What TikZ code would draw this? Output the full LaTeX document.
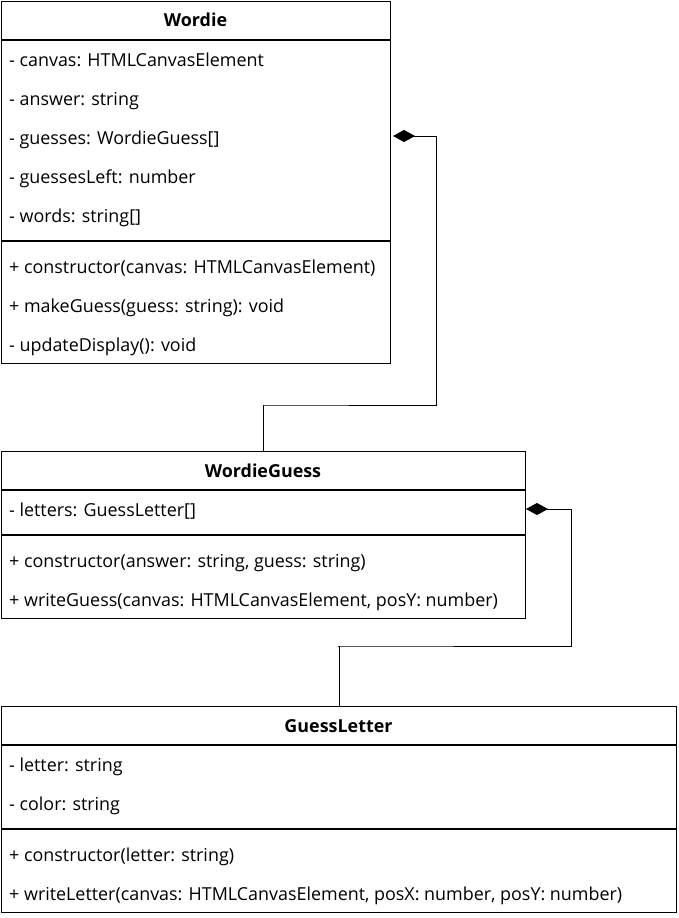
\documentclass[tikz,border=0pt]{standalone}
\usepackage{fontspec}
\setmainfont{Open Sans}
\usetikzlibrary{arrows.meta}
\tikzset{
  classbox/.style={draw, line width=1.1pt, inner sep=0pt, anchor=north west},
  attr/.style={anchor=base west, inner sep=0pt, yshift=-1pt, font=\fontsize{17.9}{20}\selectfont},
  head/.style={anchor=base, inner sep=0pt, yshift=-1pt, font=\fontsize{17.9}{20}\selectfont\bfseries},
  sepline/.style={line width=1.1pt},
  comp/.style={line width=1pt, line join=miter, -{Diamond[length=22pt,width=12pt]}}
}
\begin{document}
\begin{tikzpicture}[x=1pt,y=-1pt]
\useasboundingbox (0,0) rectangle (678,918);
% Wordie
\node[classbox, minimum width=389pt, minimum height=362pt] (wordie) at (1,1) {};
\node[head] (wordieT) at (195.5,26) {Wordie};
\draw[sepline] (1,40) -- (390,40);
\node[attr] (w1) at (9,65) {- canvas: HTMLCanvasElement};
\node[attr] (w2) at (9,104) {- answer: string};
\node[attr] (w3) at (9,143) {- guesses: WordieGuess[]};
\node[attr] (w4) at (9,182) {- guessesLeft: number};
\node[attr] (w5) at (9,221) {- words: string[]};
\draw[sepline] (1,241) -- (390,241);
\node[attr] (w6) at (9,272) {+ constructor(canvas: HTMLCanvasElement)};
\node[attr] (w7) at (9,311) {+ makeGuess(guess: string): void};
\node[attr] (w8) at (9,350) {- updateDisplay(): void};
% WordieGuess
\node[classbox, minimum width=524pt, minimum height=167pt] (wg) at (1,451) {};
\node[head] (wgT) at (263,476) {WordieGuess};
\draw[sepline] (1,490) -- (525,490);
\node[attr] (g1) at (9,515) {- letters: GuessLetter[]};
\draw[sepline] (1,535) -- (525,535);
\node[attr] (g2) at (9,566) {+ constructor(answer: string, guess: string)};
\node[attr] (g3) at (9,605) {+ writeGuess(canvas: HTMLCanvasElement, posY: number)};
% GuessLetter
\node[classbox, minimum width=675pt, minimum height=206pt] (gl) at (1,706) {};
\node[head] (glT) at (338.5,731) {GuessLetter};
\draw[sepline] (1,745) -- (676,745);
\node[attr] (l1) at (9,770) {- letter: string};
\node[attr] (l2) at (9,809) {- color: string};
\draw[sepline] (1,829) -- (676,829);
\node[attr] (l3) at (9,860) {+ constructor(letter: string)};
\node[attr] (l4) at (9,899) {+ writeLetter(canvas: HTMLCanvasElement, posX: number, posY: number)};
% connectors
\coordinate (c1a) at (263,405);
\coordinate (c1b) at (436,136);
\coordinate (c1end) at (393,136);
\draw[comp] (wg.north) |- (c1a) -| (c1b) -- (c1end);
\coordinate (c2a) at (338,646);
\coordinate (c2b) at (571,509);
\coordinate (c2end) at (526,509);
\draw[comp] (gl.north) |- (c2a) -| (c2b) -- (c2end);
\end{tikzpicture}
\end{document}
